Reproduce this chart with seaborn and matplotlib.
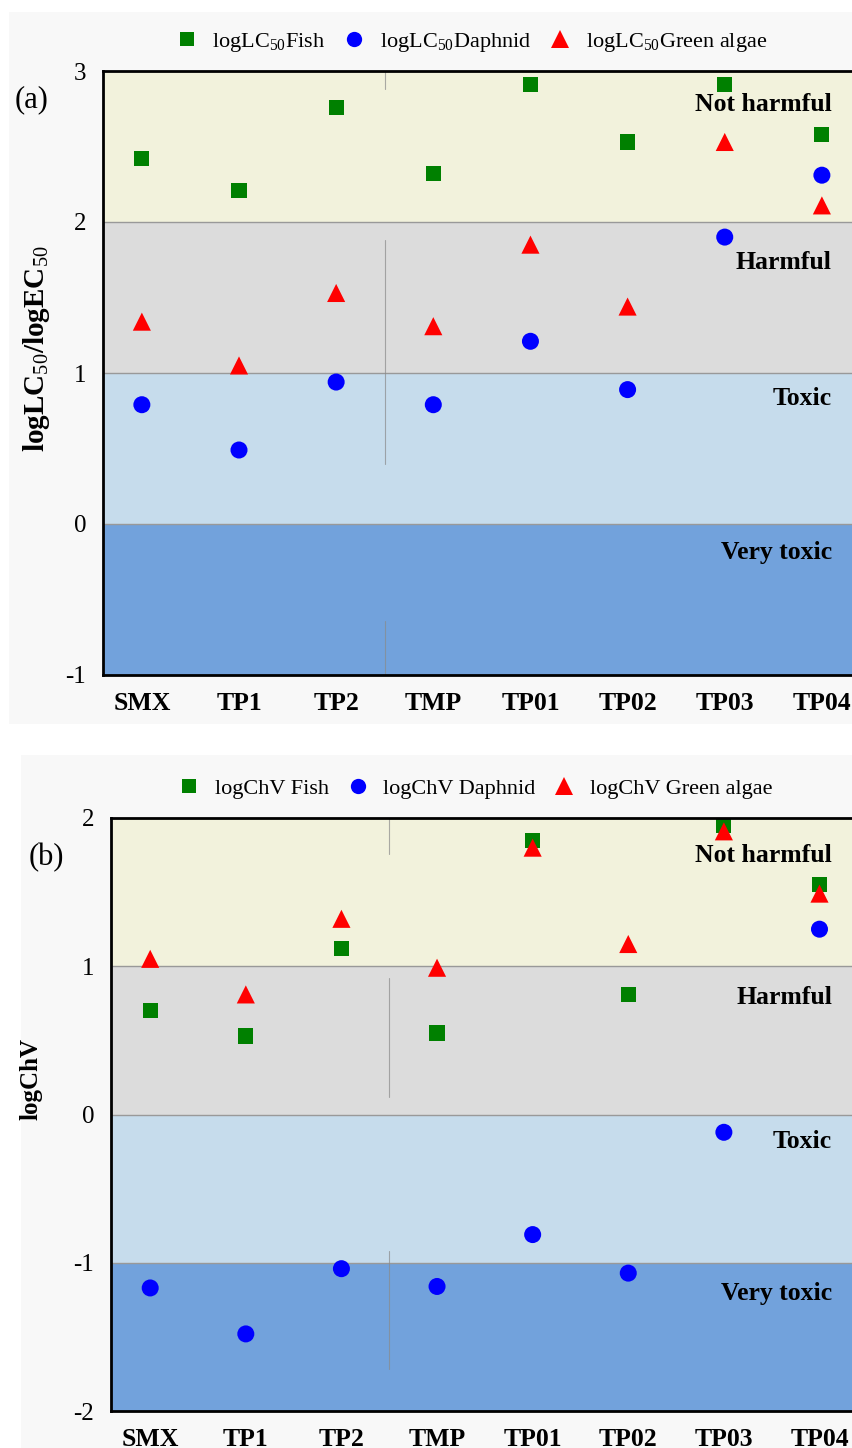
import numpy as np
import pandas as pd
import matplotlib
matplotlib.use("Agg")
import matplotlib.pyplot as plt
from matplotlib.patches import Rectangle
from matplotlib.lines import Line2D
import seaborn as sns

categories = ["SMX", "TP1", "TP2", "TMP", "TP01", "TP02", "TP03", "TP04"]

# Panel (a): logLC50 / logEC50
lc50_fish = [2.42, 2.21, 2.76, 2.32, 2.91, 2.53, 2.91, 2.58]
lc50_daphnid = [0.79, 0.49, 0.94, 0.79, 1.21, 0.89, 1.90, 2.31]
lc50_algae = [1.34, 1.05, 1.53, 1.31, 1.85, 1.44, 2.53, 2.11]

# Panel (b): logChV
chv_fish = [0.70, 0.53, 1.12, 0.55, 1.85, 0.81, 1.95, 1.55]
chv_daphnid = [-1.17, -1.48, -1.04, -1.16, -0.81, -1.07, -0.12, 1.25]
chv_algae = [1.05, 0.81, 1.32, 0.99, 1.80, 1.15, 1.91, 1.49]

legend_a = ["logLC$_{50}$Fish", "logLC$_{50}$Daphnid", "logLC$_{50}$Green algae"]
legend_b = ["logChV Fish", "logChV Daphnid", "logChV Green algae"]
band_names = ["Not harmful", "Harmful", "Toxic", "Very toxic"]

sns.set_style("white")
plt.rcParams["font.family"] = ["Liberation Serif", "DejaVu Serif"]
plt.rcParams["mathtext.fontset"] = "custom"
plt.rcParams["mathtext.rm"] = "Liberation Serif"
plt.rcParams["mathtext.it"] = "Liberation Serif:italic"
plt.rcParams["mathtext.bf"] = "Liberation Serif:bold"
plt.rcParams["axes.unicode_minus"] = False
for k in ["text.color", "axes.labelcolor", "xtick.color", "ytick.color"]:
    plt.rcParams[k] = "black"

W, H = 852, 1448
fig = plt.figure(figsize=(W / 100, H / 100), dpi=100)
fig.patch.set_facecolor("white")

# panel background boxes
fig.patches.append(Rectangle((9 / W, 1 - 724 / H), (W - 9) / W, (724 - 12) / H,
                             transform=fig.transFigure, facecolor="#f8f8f8",
                             edgecolor="none", zorder=-10))
fig.patches.append(Rectangle((21 / W, 0), (W - 21) / W, (H - 755) / H,
                             transform=fig.transFigure, facecolor="#f8f8f8",
                             edgecolor="none", zorder=-10))

band_colors = ["#f2f2dc", "#dcdcdc", "#c6dcec", "#72a2dc"]
markers = ["s", "o", "^"]
mcolors = ["#008000", "#0000ff", "#ff0000"]
msizes = [120, 150, 170]


def make_panel(rect, series, labels, ylim, bounds, ylabel, ylabel_size, xlim,
               label_y, vlines, ylab_coords, panel_label, panel_xy, leg_anchor):
    ax = fig.add_axes(rect)
    ax.set_facecolor("none")
    edges = [ylim[1]] + bounds + [ylim[0]]
    for i in range(4):
        ax.axhspan(edges[i + 1], edges[i], color=band_colors[i], zorder=0, lw=0)
    for b in bounds:
        ax.axhline(b, color="#999999", lw=1.0, zorder=1)
    for (y0, y1) in vlines:
        ax.axvline(3 - 0.5, ymin=y0, ymax=y1, color="#8a8a8a", lw=0.8, alpha=0.7, zorder=1)
    for vals, m, c, s, lab in zip(series, markers, mcolors, msizes, labels):
        df = pd.DataFrame({"cat": categories, "val": vals})
        sns.scatterplot(data=df, x="cat", y="val", marker=m, color=c, s=s,
                        edgecolor="none", ax=ax, zorder=3, label=lab, legend=False)
    ax.set_xlim(*xlim)
    ax.set_ylim(*ylim)
    ax.set_yticks(np.arange(ylim[0], ylim[1] + 1))
    ax.set_xticks(range(len(categories)))
    ax.set_xticklabels(categories, fontweight="bold", fontsize=18.5)
    ax.tick_params(axis="y", length=0, pad=12, labelsize=18)
    ax.tick_params(axis="x", length=0, pad=12)
    ax.set_xlabel("")
    ax.set_ylabel(ylabel, fontsize=ylabel_size, fontweight="bold")
    ax.yaxis.set_label_coords(*ylab_coords)
    for sp in ["left", "bottom", "top"]:
        ax.spines[sp].set_visible(True)
        ax.spines[sp].set_color("black")
        ax.spines[sp].set_linewidth(2.0)
        ax.spines[sp].set_zorder(5)
    ax.spines["right"].set_visible(False)
    for name, y in zip(band_names, label_y):
        ax.text(0.973, y, name, transform=ax.get_yaxis_transform(),
                ha="right", va="center", fontsize=18.5, fontweight="bold", zorder=4)
    handles = [Line2D([], [], ls="none", marker=m, color=c, markersize=ms,
                      markeredgewidth=0)
               for m, c, ms in zip(markers, mcolors, [10, 11, 13])]
    ax.legend(handles, labels, loc="center", bbox_to_anchor=leg_anchor,
              ncol=3, frameon=False, fontsize=16, handletextpad=0.55,
              columnspacing=0.7, handlelength=1.2)
    fig.text(panel_xy[0] / W, 1 - panel_xy[1] / H, panel_label, fontsize=22,
             ha="center", va="center")
    return ax


# Panel a
make_panel([103 / W, 1 - 675 / H, (W - 103) / W, (675 - 71) / H],
           [lc50_fish, lc50_daphnid, lc50_algae], legend_a,
           (-1, 3), [2, 1, 0], "logLC$_{50}$/logEC$_{50}$", 21, (-0.40, 7.31),
           [2.78, 1.73, 0.83, -0.19],
           [(0.97, 1.0), (0.35, 0.72), (0.0, 0.09)],
           (-0.068, 0.54), "(a)", (32, 100), (0.49, 1.048))

# Panel b
make_panel([111 / W, 1 - 1411 / H, (W - 111) / W, (1411 - 818) / H],
           [chv_fish, chv_daphnid, chv_algae], legend_b,
           (-2, 2), [1, 0, -1], "logChV", 18, (-0.41, 7.34),
           [1.75, 0.79, -0.18, -1.21],
           [(0.94, 1.0), (0.53, 0.73), (0.07, 0.27)],
           (-0.092, 0.56), "(b)", (46, 858), (0.49, 1.05))

fig.savefig("out.png", dpi=100)
